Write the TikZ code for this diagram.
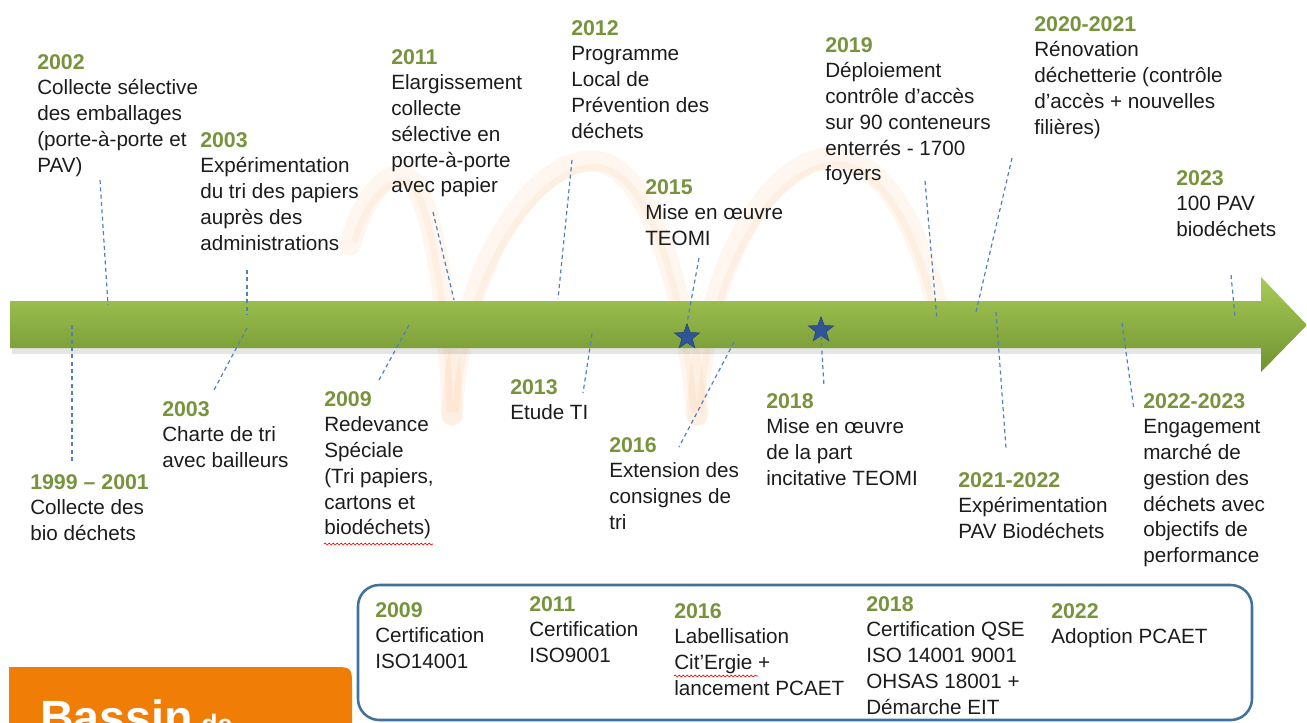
\documentclass[tikz,border=0pt]{standalone}
\usepackage{fontspec}
\setmainfont{Liberation Sans}
\usetikzlibrary{positioning,shapes.geometric,decorations.pathmorphing}

\definecolor{yrgreen}{RGB}{119,147,60}
\definecolor{txtgray}{RGB}{28,28,28}
\definecolor{guideblue}{RGB}{79,129,189}
\definecolor{stblue}{RGB}{47,85,151}
\definecolor{bartop}{RGB}{168,203,88}
\definecolor{barbot}{RGB}{112,146,48}
\definecolor{peach}{RGB}{245,185,125}
\definecolor{orbox}{RGB}{240,125,5}
\definecolor{frameblue}{RGB}{65,113,156}

\newcommand{\yr}[1]{{\fontsize{16}{19.3}\selectfont\bfseries\color{yrgreen}#1}}

\tikzset{
  evtext/.style={anchor=north west, inner sep=0pt, align=left, text=txtgray, font=\fontsize{15.5}{19.3}\selectfont},
  guide/.style={draw=guideblue, line width=0.9pt, dash pattern=on 3pt off 2.5pt},
  starmark/.style={star, star points=5, star point ratio=2.4, minimum size=20pt, inner sep=0pt, fill=stblue, draw=stblue!80!black, line width=0.4pt},
  swoosh/.style={draw=peach, opacity=0.12, line cap=round},
  squiggle/.style={draw=red, line width=0.5pt, decorate, decoration={snake, segment length=3pt, amplitude=0.7pt}}
}

\begin{document}
\begin{tikzpicture}[x=0.75pt,y=0.75pt,yscale=-1,xscale=1]

\useasboundingbox (0,0) rectangle (1307,722);
\clip (0,0) rectangle (1307,722);

%Curves (background swooshes)
\draw [swoosh, line width=16pt] (350,245) .. controls (365,190) and (395,160) .. (415,185) .. controls (435,215) and (450,320) .. (452,415) ;
\draw [swoosh, line width=16pt] (452,415) .. controls (460,260) and (540,150) .. (600,162) .. controls (650,172) and (685,290) .. (697,415) ;
\draw [swoosh, line width=16pt] (697,415) .. controls (705,250) and (780,150) .. (840,158) .. controls (895,168) and (925,250) .. (940,320) ;
\draw [swoosh, line width=5pt] (355,240) .. controls (368,195) and (398,168) .. (416,190) .. controls (433,220) and (447,320) .. (450,410) ;
\draw [swoosh, line width=5pt] (456,410) .. controls (465,265) and (545,158) .. (602,168) .. controls (652,178) and (683,295) .. (694,410) ;
\draw [swoosh, line width=5pt] (700,410) .. controls (710,255) and (785,158) .. (842,165) .. controls (893,173) and (922,255) .. (936,318) ;

%Shapes (timeline arrow)
\fill [black, opacity=0.1] (12,348) rectangle (1261,354) ;
\shade [top color=bartop, bottom color=barbot] (10,301) -- (1261,301) -- (1261,277) -- (1307,325) -- (1261,372) -- (1261,348) -- (10,348) -- cycle ;

%Shapes (bottom boxes)
\fill [orbox] (9,740) -- (9,667) -- (332,667) .. controls (352,667) .. (352,687) -- (352,740) -- cycle ;
\draw [frameblue, line width=1.9pt, rounded corners=16pt] (358,585) rectangle (1252,720) ;

% Text Node
\draw (40,733) node [anchor=base west, inner sep=0pt, text=white, font=\bfseries] (bassin) {\fontsize{35}{40}\selectfont Bassin\hspace{6pt}\fontsize{20}{24}\selectfont de};

% Text Node
\draw (37,54) node [evtext] (t2002) {\yr{2002}\\Collecte sélective\\des emballages\\(porte-à-porte et\\PAV)};
% Text Node
\draw (200,132) node [evtext] (t2003) {\yr{2003}\\Expérimentation\\du tri des papiers\\auprès des\\administrations};
% Text Node
\draw (391,49) node [evtext] (t2011) {\yr{2011}\\Elargissement\\collecte\\sélective en\\porte-à-porte\\avec papier};
% Text Node
\draw (571,20) node [evtext] (t2012) {\yr{2012}\\Programme\\Local de\\Prévention des\\déchets};
% Text Node
\draw (645,179) node [evtext] (t2015) {\yr{2015}\\Mise en œuvre\\TEOMI};
% Text Node
\draw (825,37) node [evtext] (t2019) {\yr{2019}\\Déploiement\\contrôle d’accès\\sur 90 conteneurs\\enterrés - 1700\\foyers};
% Text Node
\draw (1034,16) node [evtext] (t2020) {\yr{2020-2021}\\Rénovation\\déchetterie (contrôle\\d’accès + nouvelles\\filières)};
% Text Node
\draw (1176,170) node [evtext] (t2023) {\yr{2023}\\100 PAV\\biodéchets};

% Text Node
\draw (30,474) node [evtext] (b1999) {\yr{1999 – 2001}\\Collecte des\\bio déchets};
% Text Node
\draw (162,401) node [evtext] (b2003) {\yr{2003}\\Charte de tri\\avec bailleurs};
% Text Node
\draw (324,391) node [evtext] (b2009) {\yr{2009}\\Redevance\\Spéciale\\(Tri papiers,\\cartons et\\biodéchets)};
% Text Node
\draw (510,379) node [evtext] (b2013) {\yr{2013}\\Etude TI};
% Text Node
\draw (609,437) node [evtext] (b2016) {\yr{2016}\\Extension des\\consignes de\\tri};
% Text Node
\draw (766,393) node [evtext] (b2018) {\yr{2018}\\Mise en œuvre\\de la part\\incitative TEOMI};
% Text Node
\draw (958,472) node [evtext] (b2021) {\yr{2021-2022}\\Expérimentation\\PAV Biodéchets};
% Text Node
\draw (1143,393) node [evtext] (b2022) {\yr{2022-2023}\\Engagement\\marché de\\gestion des\\déchets avec\\objectifs de\\performance};

% Text Node
\draw (375,602) node [evtext] (k2009) {\yr{2009}\\Certification\\ISO14001};
% Text Node
\draw (529,596) node [evtext] (k2011) {\yr{2011}\\Certification\\ISO9001};
% Text Node
\draw (674,603) node [evtext] (k2016) {\yr{2016}\\Labellisation\\Cit’Ergie +\\lancement PCAET};
% Text Node
\draw (866,596) node [evtext] (k2018) {\yr{2018}\\Certification QSE\\ISO 14001 9001\\OHSAS 18001 +\\Démarche EIT};
% Text Node
\draw (1051,603) node [evtext] (k2022) {\yr{2022}\\Adoption PCAET};

%Straight Lines (spelling marks)
\draw [squiggle] (324,544) -- (433,544) ;
\draw [squiggle] (674,676) -- (758,676) ;

% Stars
\node [starmark] (s2015) at (687,337) {};
\node [starmark] (s2018) at (821,330) {};

% Guide ends
\coordinate (ga2002) at (100,180);  \coordinate (gb2002) at (108,305);
\coordinate (ga2003) at (247,270);  \coordinate (gb2003) at (247,315);
\coordinate (ga2011) at (433,212);  \coordinate (gb2011) at (454,300);
\coordinate (ga2012) at (572,160);  \coordinate (gb2012) at (558,299);
\coordinate (ga2015) at (699,258);
\coordinate (ga2019) at (925,181);  \coordinate (gb2019) at (937,320);
\coordinate (ga2020) at (1012,158); \coordinate (gb2020) at (976,312);
\coordinate (ga2023) at (1231,275); \coordinate (gb2023) at (1235,317);
\coordinate (ha1999) at (72,325);   \coordinate (hb1999) at (72,462);
\coordinate (ha2003) at (247,328);  \coordinate (hb2003) at (213,392);
\coordinate (ha2009) at (409,325);  \coordinate (hb2009) at (379,380);
\coordinate (ha2013) at (592,334);  \coordinate (hb2013) at (583,393);
\coordinate (ha2016) at (734,342);  \coordinate (hb2016) at (679,447);
\coordinate (hb2018) at (824,386);
\coordinate (ha2021) at (996,312);  \coordinate (hb2021) at (1006,448);
\coordinate (ha2022) at (1122,323); \coordinate (hb2022) at (1134,410);

%Straight Lines
\draw [guide] (ga2002) -- (gb2002) ;
\draw [guide] (ga2003) -- (gb2003) ;
\draw [guide] (ga2011) -- (gb2011) ;
\draw [guide] (ga2012) -- (gb2012) ;
\draw [guide] (ga2015) -- (s2015.north) ;
\draw [guide] (ga2019) -- (gb2019) ;
\draw [guide] (ga2020) -- (gb2020) ;
\draw [guide] (ga2023) -- (gb2023) ;
%Straight Lines
\draw [guide] (ha1999) -- (hb1999) ;
\draw [guide] (ha2003) -- (hb2003) ;
\draw [guide] (ha2009) -- (hb2009) ;
\draw [guide] (ha2013) -- (hb2013) ;
\draw [guide] (ha2016) -- (hb2016) ;
\draw [guide] (s2018.south) -- (hb2018) ;
\draw [guide] (ha2021) -- (hb2021) ;
\draw [guide] (ha2022) -- (hb2022) ;

\end{tikzpicture}
\end{document}
